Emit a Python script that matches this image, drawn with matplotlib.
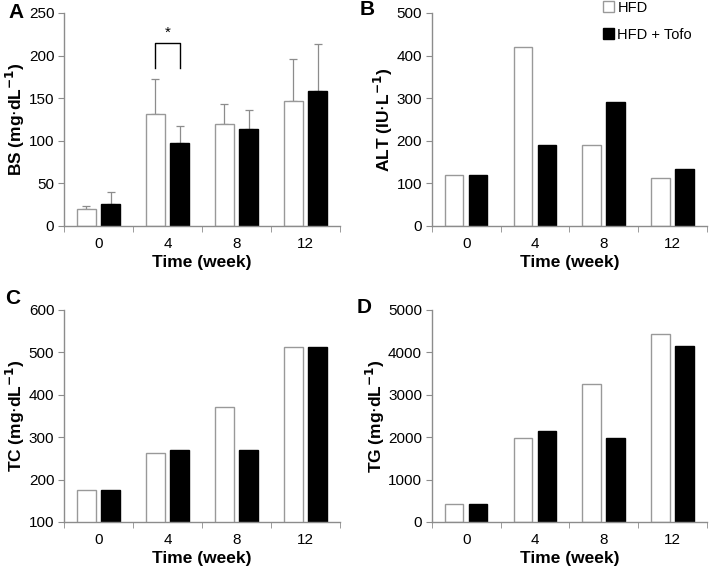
import matplotlib
matplotlib.use('Agg')
import matplotlib.pyplot as plt
from matplotlib.patches import Patch
import numpy as np

plt.rcParams['font.family'] = ['Liberation Sans', 'DejaVu Sans']

weeks = ['0', '4', '8', '12']

bs_hfd = [20, 132, 120, 147]
bs_tofo = [26, 97, 114, 159]
bs_hfd_err = [4, 40, 23, 49]
bs_tofo_err = [14, 20, 22, 55]

alt_hfd = [120, 421, 191, 113]
alt_tofo = [120, 191, 292, 134]

tc_hfd = [175, 262, 371, 512]
tc_tofo = [175, 270, 270, 512]

tg_hfd = [423, 1980, 3247, 4437]
tg_tofo = [423, 2152, 1972, 4139]

GRAY = '#8c8c8c'
W = 0.27
OFF = 0.175

fig = plt.figure(figsize=(7.09, 5.74), dpi=100)

def panel(rect, hfd, tofo, ylim, yticks, ylabel, letter, letter_xy, hfd_err=None, tofo_err=None):
    ax = fig.add_axes(rect)
    x = np.arange(len(weeks))
    ax.bar(x - OFF, hfd, W, color='white', edgecolor='#999999', linewidth=1.0, zorder=2)
    ax.bar(x + OFF, tofo, W, color='black', edgecolor='black', linewidth=1.0, zorder=2)
    if hfd_err is not None:
        ax.errorbar(x - OFF, hfd, yerr=[np.zeros(len(hfd)), hfd_err], fmt='none',
                    ecolor=GRAY, elinewidth=0.9, capsize=3, capthick=0.9, zorder=1)
        ax.errorbar(x + OFF, tofo, yerr=[np.zeros(len(tofo)), tofo_err], fmt='none',
                    ecolor=GRAY, elinewidth=0.9, capsize=3, capthick=0.9, zorder=1)
    ax.set_xlim(-0.5, 3.5)
    ax.set_ylim(*ylim)
    ax.set_yticks(yticks)
    ax.set_xticks(x)
    ax.set_xticklabels(weeks)
    ax.set_xticks(np.arange(-0.5, 4.0, 1.0), minor=True)
    ax.tick_params(axis='x', which='major', length=0, labelsize=11, pad=8)
    ax.tick_params(axis='x', which='minor', length=4, color=GRAY, direction='out')
    ax.tick_params(axis='y', length=4, color=GRAY, labelsize=11, pad=3)
    for s in ['top', 'right']:
        ax.spines[s].set_visible(False)
    for s in ['left', 'bottom']:
        ax.spines[s].set_color(GRAY)
        ax.spines[s].set_linewidth(1.0)
    ax.set_xlabel('Time (week)', fontsize=12.5, fontweight='bold', labelpad=3)
    ax.set_ylabel(ylabel, fontsize=12.5, fontweight='bold', labelpad=1)
    ax.text(letter_xy[0], letter_xy[1], letter, transform=ax.transAxes, fontsize=15,
            fontweight='bold', ha='center', va='center')
    return ax

unit_mg = r'(mg$\cdot$dL$^{\mathbf{-1}}$)'
axA = panel([0.0903, 0.6063, 0.3892, 0.3711], bs_hfd, bs_tofo, (0, 250),
            range(0, 251, 50), 'BS ' + unit_mg, 'A', (-0.175, 1.0),
            bs_hfd_err, bs_tofo_err)
# significance bracket at week 4
axA.plot([1 - OFF, 1 - OFF, 1 + OFF, 1 + OFF], [186, 215, 215, 186], color='black', lw=1.0)
axA.text(1, 218, '*', ha='center', va='bottom', fontsize=11)

axB = panel([0.609, 0.6063, 0.388, 0.3711], alt_hfd, alt_tofo, (0, 500),
            range(0, 501, 100), r'ALT (IU$\cdot$L$^{\mathbf{-1}}$)', 'B', (-0.236, 1.015))
handles = [Patch(facecolor='white', edgecolor='#999999', label='HFD'),
           Patch(facecolor='black', edgecolor='black', label='HFD + Tofo')]
axB.legend(handles=handles, loc='upper left', bbox_to_anchor=(0.6, 1.085),
           frameon=False, fontsize=10.5, handlelength=0.8, handleheight=0.8,
           handletextpad=0.2, labelspacing=0.9, borderaxespad=0)

axC = panel([0.0903, 0.0906, 0.3892, 0.3694], tc_hfd, tc_tofo, (100, 600),
            range(100, 601, 100), 'TC ' + unit_mg, 'C', (-0.185, 1.055))
axD = panel([0.609, 0.0906, 0.388, 0.3694], tg_hfd, tg_tofo, (0, 5000),
            range(0, 5001, 1000), 'TG ' + unit_mg, 'D', (-0.247, 1.01))

fig.savefig('out.png', dpi=100)
